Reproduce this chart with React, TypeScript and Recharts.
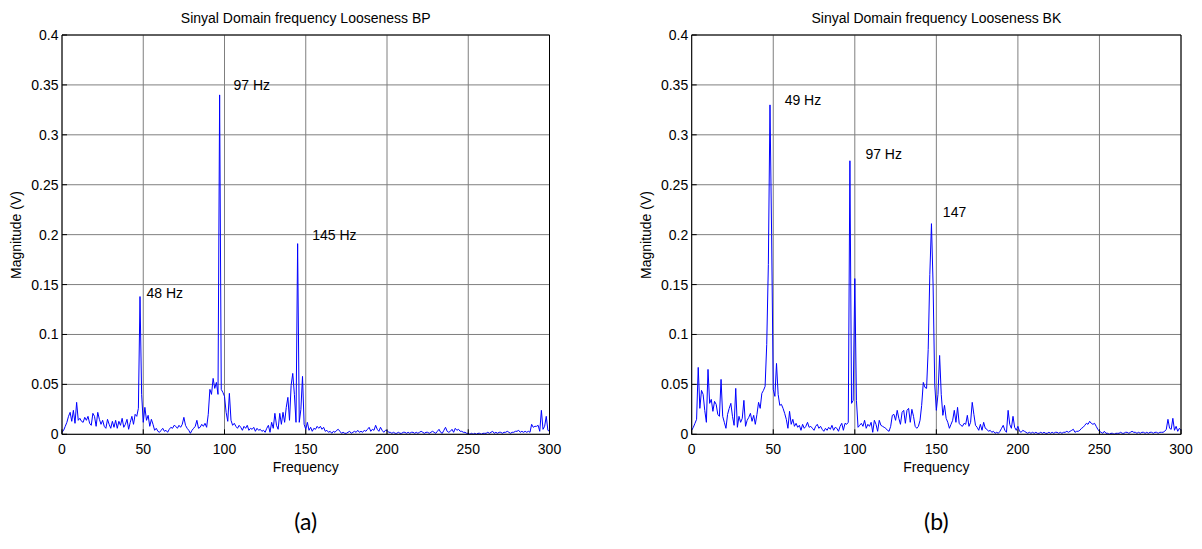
import React from "react";
import { CartesianGrid, Line, LineChart, ReferenceDot, XAxis, YAxis } from "recharts";

// frequency bins, 1 Hz apart
const freqHz = Array.from({ length: 301 }, (_, i) => i);
const xTicks = [0, 50, 100, 150, 200, 250, 300];
const yTicks = [0, 0.05, 0.1, 0.15, 0.2, 0.25, 0.3, 0.35, 0.4];

// (a) Looseness BP, magnitude (V) per Hz
const bpMagnitude = [
  0.002, 0.004, 0.008, 0.012, 0.018, 0.022, 0.013, 0.024, 0.011, 0.032,
  0.014, 0.016, 0.013, 0.012, 0.017, 0.014, 0.018, 0.011, 0.009, 0.021,
  0.018, 0.008, 0.022, 0.015, 0.010, 0.014, 0.008, 0.006, 0.015, 0.010,
  0.006, 0.013, 0.007, 0.014, 0.006, 0.013, 0.009, 0.016, 0.007, 0.010,
  0.015, 0.005, 0.012, 0.018, 0.010, 0.020, 0.018, 0.026, 0.138, 0.040,
  0.012, 0.027, 0.014, 0.019, 0.008, 0.015, 0.010, 0.004, 0.006, 0.003,
  0.002, 0.004, 0.006, 0.003, 0.004, 0.002, 0.005, 0.007, 0.006, 0.009,
  0.008, 0.006, 0.009, 0.007, 0.010, 0.017, 0.009, 0.006, 0.004, 0.001,
  0.004, 0.006, 0.008, 0.014, 0.006, 0.007, 0.010, 0.008, 0.011, 0.007,
  0.020, 0.045, 0.040, 0.056, 0.046, 0.052, 0.040, 0.340, 0.045, 0.042,
  0.038, 0.022, 0.013, 0.041, 0.014, 0.009, 0.011, 0.008, 0.006, 0.009,
  0.007, 0.004, 0.008, 0.006, 0.009, 0.004, 0.006, 0.005, 0.007, 0.003,
  0.006, 0.004, 0.005, 0.003, 0.004, 0.002, 0.006, 0.009, 0.002, 0.012,
  0.006, 0.021, 0.009, 0.005, 0.021, 0.010, 0.022, 0.012, 0.027, 0.037,
  0.014, 0.049, 0.061, 0.040, 0.012, 0.191, 0.012, 0.025, 0.058, 0.010,
  0.005, 0.012, 0.004, 0.007, 0.003, 0.006, 0.005, 0.008, 0.006, 0.008,
  0.005, 0.007, 0.003, 0.004, 0.002, 0.003, 0.001, 0.003, 0.002, 0.004,
  0.005, 0.003, 0.001, 0.002, 0.001, 0.001, 0.002, 0.003, 0.001, 0.002,
  0.003, 0.002, 0.004, 0.002, 0.003, 0.002, 0.004, 0.003, 0.005, 0.007,
  0.003, 0.005, 0.004, 0.009, 0.005, 0.003, 0.007, 0.004, 0.002, 0.004,
  0.004, 0.002, 0.002, 0.001, 0.002, 0.001, 0.001, 0.002, 0.001, 0.001,
  0.002, 0.002, 0.001, 0.002, 0.001, 0.002, 0.002, 0.001, 0.002, 0.001,
  0.002, 0.003, 0.002, 0.001, 0.002, 0.002, 0.001, 0.002, 0.003, 0.002,
  0.001, 0.003, 0.005, 0.002, 0.001, 0.004, 0.007, 0.003, 0.002, 0.003,
  0.005, 0.002, 0.006, 0.004, 0.005, 0.003, 0.003, 0.002, 0.002, 0.001,
  0.001, 0.000, 0.001, 0.000, 0.001, 0.000, 0.001, 0.001, 0.000, 0.001,
  0.001, 0.001, 0.002, 0.001, 0.002, 0.003, 0.001, 0.002, 0.001, 0.002,
  0.002, 0.001, 0.002, 0.002, 0.003, 0.002, 0.001, 0.002, 0.002, 0.003,
  0.003, 0.004, 0.002, 0.003, 0.002, 0.003, 0.002, 0.003, 0.002, 0.010,
  0.007, 0.008, 0.008, 0.009, 0.003, 0.024, 0.005, 0.008, 0.018, 0.004,
  0.003,
];

// (b) Looseness BK
const bkMagnitude = [
  0.004, 0.007, 0.011, 0.015, 0.067, 0.026, 0.044, 0.040, 0.024, 0.012,
  0.065, 0.031, 0.035, 0.023, 0.033, 0.030, 0.020, 0.018, 0.055, 0.018,
  0.012, 0.006, 0.020, 0.026, 0.031, 0.018, 0.009, 0.046, 0.007, 0.018,
  0.012, 0.016, 0.034, 0.008, 0.014, 0.017, 0.021, 0.013, 0.019, 0.010,
  0.020, 0.032, 0.026, 0.041, 0.044, 0.048, 0.090, 0.170, 0.330, 0.200,
  0.045, 0.038, 0.071, 0.040, 0.029, 0.030, 0.026, 0.021, 0.015, 0.006,
  0.023, 0.010, 0.015, 0.008, 0.011, 0.007, 0.009, 0.004, 0.010, 0.006,
  0.008, 0.012, 0.007, 0.008, 0.006, 0.004, 0.008, 0.010, 0.006, 0.008,
  0.005, 0.003, 0.006, 0.004, 0.007, 0.005, 0.009, 0.004, 0.007, 0.006,
  0.003, 0.008, 0.011, 0.004, 0.011, 0.010, 0.012, 0.274, 0.031, 0.034,
  0.156, 0.034, 0.007, 0.009, 0.011, 0.008, 0.014, 0.006, 0.010, 0.008,
  0.012, 0.002, 0.014, 0.010, 0.003, 0.014, 0.009, 0.008, 0.007, 0.006,
  0.004, 0.003, 0.008, 0.019, 0.020, 0.014, 0.024, 0.016, 0.010, 0.022,
  0.024, 0.011, 0.024, 0.026, 0.012, 0.025, 0.018, 0.008, 0.006, 0.008,
  0.014, 0.029, 0.052, 0.047, 0.046, 0.085, 0.160, 0.211, 0.150, 0.050,
  0.024, 0.040, 0.079, 0.040, 0.019, 0.029, 0.016, 0.012, 0.006, 0.010,
  0.014, 0.024, 0.012, 0.027, 0.011, 0.009, 0.008, 0.011, 0.010, 0.019,
  0.008, 0.012, 0.032, 0.020, 0.009, 0.007, 0.004, 0.010, 0.004, 0.012,
  0.006, 0.005, 0.003, 0.004, 0.002, 0.003, 0.001, 0.002, 0.001, 0.003,
  0.006, 0.009, 0.004, 0.002, 0.024, 0.010, 0.006, 0.018, 0.007, 0.004,
  0.008, 0.003, 0.002, 0.004, 0.003, 0.002, 0.001, 0.002, 0.001, 0.002,
  0.001, 0.002, 0.001, 0.001, 0.002, 0.001, 0.002, 0.001, 0.001, 0.002,
  0.001, 0.002, 0.001, 0.002, 0.002, 0.001, 0.002, 0.001, 0.002, 0.002,
  0.003, 0.002, 0.003, 0.004, 0.005, 0.002, 0.003, 0.003, 0.004, 0.006,
  0.007, 0.009, 0.011, 0.010, 0.013, 0.011, 0.010, 0.011, 0.008, 0.005,
  0.003, 0.002, 0.001, 0.003, 0.001, 0.001, 0.000, 0.001, 0.001, 0.000,
  0.001, 0.001, 0.001, 0.002, 0.001, 0.001, 0.002, 0.002, 0.001, 0.002,
  0.003, 0.002, 0.002, 0.001, 0.002, 0.001, 0.002, 0.002, 0.001, 0.002,
  0.001, 0.002, 0.002, 0.001, 0.002, 0.002, 0.001, 0.002, 0.002, 0.002,
  0.003, 0.005, 0.015, 0.006, 0.005, 0.016, 0.004, 0.008, 0.003, 0.006,
  0.004,
];

// peak annotations: [freq, magnitude, text] (text left/middle anchor)
const bpNotes: [number, number, string][] = [
  [52, 0.142, "48 Hz"],
  [105.5, 0.35, "97 Hz"],
  [154, 0.2, "145 Hz"],
];
const bkNotes: [number, number, string][] = [
  [57, 0.335, "49 Hz"],
  [106.5, 0.281, "97 Hz"],
  [154, 0.223, "147"],
];

const FONT = "'Liberation Sans', Arial, sans-serif";
const FS = 14;

interface PanelProps {
  left: number;
  title: string;
  caption: string;
  mags: number[];
  notes: [number, number, string][];
  marginLeft: number;
  marginRight: number;
}

function SpectrumPanel({ left, title, caption, mags, notes, marginLeft, marginRight }: PanelProps) {
  const data = freqHz.map((f, i) => ({ f, v: mags[i] }));
  const plotLeft = marginLeft + 40;
  const plotRight = 600 - marginRight - 1;
  const cx = (plotLeft + plotRight) / 2;
  const tickStyle = { fill: "#000", fontSize: FS, fontFamily: FONT };

  return (
    <div style={{ position: "absolute", left, top: 0, width: 600, height: 549 }}>
      <div
        style={{
          position: "absolute", left: cx, top: 10, transform: "translateX(-50%)",
          whiteSpace: "nowrap", fontFamily: FONT, fontSize: FS, lineHeight: "16px", color: "#000",
        }}
      >
        {title}
      </div>
      <LineChart
        width={600}
        height={500}
        data={data}
        margin={{ top: 34, right: marginRight, bottom: 35.7, left: marginLeft }}
      >
        <CartesianGrid stroke="#7f7f7f" strokeWidth={1} />
        <XAxis
          dataKey="f" type="number" domain={[0, 300]} ticks={xTicks} interval={0}
          height={30} tickSize={-5} tickMargin={14.7} stroke="#000" tick={tickStyle}
        />
        <XAxis
          xAxisId="top" orientation="top" type="number" domain={[0, 300]} ticks={xTicks}
          interval={0} height={1} tickSize={-5} tick={false} stroke="#000"
        />
        <YAxis
          type="number" domain={[0, 0.4]} ticks={yTicks} interval={0} width={40}
          tickSize={-5} tickMargin={8.5} stroke="#000" tick={tickStyle}
        />
        <YAxis
          yAxisId="right" orientation="right" type="number" domain={[0, 0.4]} ticks={yTicks}
          interval={0} width={1} tickSize={-5} tick={false} stroke="#000"
        />
        <Line
          dataKey="v" type="linear" stroke="#0000ff" strokeWidth={1} dot={false}
          isAnimationActive={false}
        />
        {notes.map(([x, y, text]) => (
          <ReferenceDot
            key={text + x} x={x} y={y} r={0} stroke="none" fill="none" ifOverflow="visible"
            label={{ value: text, position: "right", offset: 0, fill: "#000", fontSize: FS, fontFamily: FONT }}
          />
        ))}
      </LineChart>
      <div
        style={{
          position: "absolute", left: cx, top: 459, transform: "translateX(-50%)",
          fontFamily: FONT, fontSize: FS, lineHeight: "16px", color: "#000",
        }}
      >
        Frequency
      </div>
      <div
        style={{
          position: "absolute", left: plotLeft - 46, top: 234.6,
          transform: "translate(-50%, -50%) rotate(-90deg)", whiteSpace: "nowrap",
          fontFamily: FONT, fontSize: FS, lineHeight: "16px", color: "#000",
        }}
      >
        Magnitude (V)
      </div>
      <div
        style={{
          position: "absolute", left: cx, top: 506, transform: "translateX(-50%)",
          fontFamily: "Lato, 'Open Sans', sans-serif", fontSize: 23, lineHeight: "30px", color: "#000",
        }}
      >
        {caption}
      </div>
    </div>
  );
}

export default function App() {
  return (
    <div style={{ position: "absolute", left: 0, top: 0, width: 1202, height: 549, background: "#fff" }}>
      <SpectrumPanel
        left={0} title="Sinyal Domain frequency Looseness BP" caption="(a)"
        mags={bpMagnitude} notes={bpNotes} marginLeft={22} marginRight={49.5}
      />
      <SpectrumPanel
        left={600} title="Sinyal Domain frequency Looseness BK" caption="(b)"
        mags={bkMagnitude} notes={bkNotes} marginLeft={51.7} marginRight={18}
      />
    </div>
  );
}
